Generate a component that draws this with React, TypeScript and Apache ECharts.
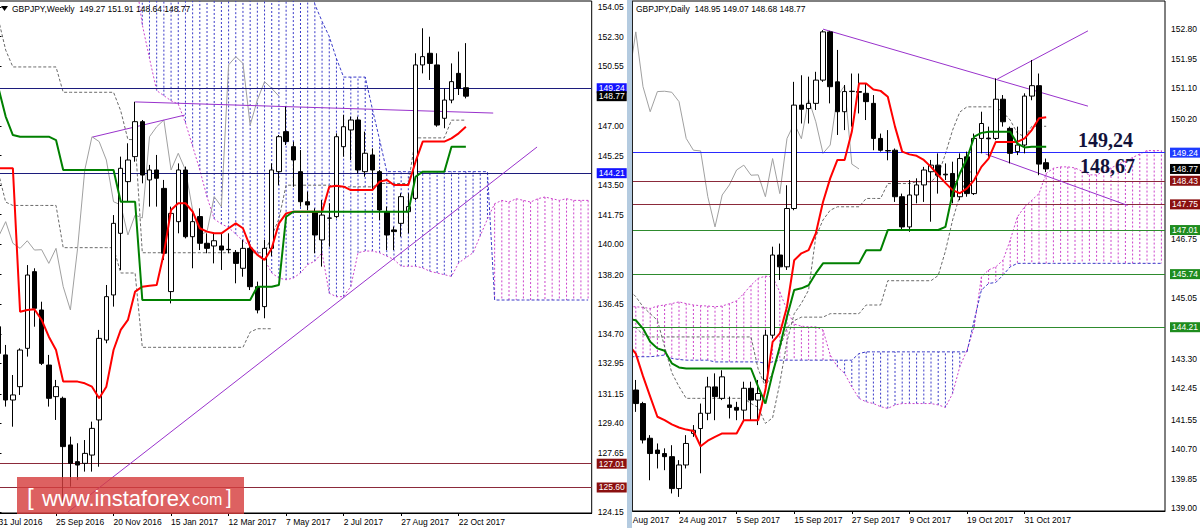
import React, { useEffect, useRef } from "react";
import * as echarts from "echarts";

const FONT = '"Liberation Sans", Arial, sans-serif';
const MONTHS = ["Jan", "Feb", "Mar", "Apr", "May", "Jun", "Jul", "Aug", "Sep", "Oct", "Nov", "Dec"];
const fmtDate = (d: Date) => `${d.getUTCDate()} ${MONTHS[d.getUTCMonth()]} ${d.getUTCFullYear()}`;

// ================= WEEKLY (left panel) =================
const W_SYMBOL = "GBPJPY,Weekly";
const W_FIRST = [2016, 6, 31]; // 31 Jul 2016
const W_SLOTS = 83; // bars + future cloud slots
const W_LABEL_STEP = 8;
const CHIKOU_SHIFT = 26;
// [open, close, low, high]
const W_OHLC: number[][] = [
  [135.12, 133.54, 133.35, 135.52], [133.45, 130.78, 130.39, 134.04], [130.78, 131.08, 129.2, 132.26],
  [131.57, 133.74, 131.08, 133.84], [133.84, 138.18, 133.35, 138.77], [138.38, 136.21, 135.12, 138.58],
  [136.11, 132.95, 132.85, 136.6], [132.85, 130.88, 130.39, 133.45], [130.98, 131.57, 129.6, 131.97],
  [130.88, 128.02, 124.66, 130.98], [128.12, 127.03, 125.65, 128.61], [127.13, 126.93, 126.04, 128.22],
  [127.03, 127.62, 126.54, 128.41], [127.52, 129.1, 126.54, 129.5], [129.6, 134.43, 126.83, 134.93],
  [134.33, 136.9, 134.14, 137.59], [137.0, 141.24, 136.31, 141.73], [140.65, 144.5, 138.48, 145.19],
  [143.71, 144.99, 142.52, 145.98], [145.19, 147.26, 144.89, 148.44], [147.26, 144.1, 143.61, 147.36],
  [143.81, 144.4, 142.23, 144.7], [144.4, 143.91, 142.23, 145.29], [143.31, 139.47, 139.07, 143.81],
  [137.2, 141.83, 136.5, 142.23], [141.34, 144.4, 140.65, 144.79], [144.4, 140.45, 140.35, 144.6],
  [140.45, 141.34, 138.58, 141.93], [141.64, 140.06, 139.66, 142.13], [140.06, 139.76, 139.47, 140.65],
  [139.9, 140.21, 138.87, 140.65], [139.9, 139.66, 138.48, 140.65], [139.7, 139.68, 139.47, 140.65],
  [139.52, 138.87, 137.69, 139.66], [138.58, 139.76, 138.08, 140.26], [139.76, 137.49, 137.29, 140.16],
  [137.49, 136.11, 135.91, 137.79], [136.31, 139.76, 135.62, 140.26], [139.76, 144.4, 139.3, 144.79],
  [144.3, 146.37, 143.5, 146.47], [146.67, 146.08, 145.88, 148.15], [145.78, 144.99, 143.41, 146.08],
  [144.3, 142.52, 142.23, 145.58], [142.52, 142.33, 142.03, 143.12], [141.93, 140.55, 139.47, 142.13],
  [140.26, 141.73, 138.68, 142.62], [141.54, 141.56, 139.86, 142.43], [141.64, 146.37, 141.54, 146.57],
  [145.78, 146.96, 145.19, 147.66], [146.77, 147.36, 144.99, 147.56], [147.36, 144.4, 144.2, 147.56],
  [144.3, 145.39, 144.0, 146.67], [145.29, 144.4, 143.22, 145.68], [144.3, 142.03, 141.44, 144.4],
  [141.93, 140.55, 139.66, 142.23], [140.85, 140.75, 139.66, 141.05], [141.24, 142.82, 140.45, 143.02],
  [141.93, 142.23, 140.65, 143.02], [142.72, 150.62, 142.62, 151.31], [150.62, 151.11, 150.12, 152.79],
  [151.31, 150.71, 149.73, 152.29], [150.62, 147.06, 146.96, 151.31], [147.46, 148.54, 146.87, 149.23],
  [148.54, 149.63, 148.35, 150.71], [150.12, 149.23, 148.84, 151.41], [149.27, 148.77, 148.64, 151.91],
];
const W_TENKAN = [
  144.5, 144.5, 144.5, 136.01, 136.11, 136.15, 135.52, 134.53, 133.74, 131.87,
  131.87, 131.87, 131.77, 131.57, 130.88, 131.57, 133.74, 134.93, 135.52, 137.2,
  137.49, 137.54, 137.59, 139.47, 142.03, 142.43, 142.43, 141.93, 140.95, 140.75,
  140.65, 140.65, 140.95, 141.24, 140.95, 139.86, 139.37, 139.07, 139.76, 141.24,
  141.83, 141.93, 141.93, 141.93, 141.93, 141.93, 143.41, 143.47, 143.41, 143.21,
  143.21, 143.21, 143.21, 143.71, 143.81, 143.51, 143.51, 143.51, 144.89, 146.08,
  146.08, 146.08, 146.08, 146.27, 146.57, 146.96,
];
const W_KIJUN = [
  149.25, 147.56, 146.47, 146.37, 146.37, 146.37, 146.37, 146.37, 146.17, 144.4,
  144.4, 144.4, 144.4, 144.4, 144.4, 144.4, 144.4, 142.52, 142.52, 142.52,
  136.7, 136.7, 136.7, 136.7, 136.7, 136.7, 136.7, 136.7, 136.7, 136.7,
  136.7, 136.7, 136.7, 136.7, 136.7, 136.7, 137.49, 137.49, 137.49, 137.59,
  141.63, 141.93, 141.93, 141.93, 141.93, 141.93, 141.93, 141.93, 141.93, 141.93,
  141.93, 141.93, 141.93, 141.93, 141.93, 141.93, 141.93, 141.93, 144.0, 144.3,
  144.3, 144.3, 144.3, 145.78, 145.78, 145.78,
];
const W_SPAN_A: (number | null)[] = [
  null, null, null, null, null, null, null, null, null, null,
  null, null, null, null, null, null, null, null, null,
  156.0, 153.0, 151.0, 149.1, 148.8, 148.5, 148.3, 147.2, 145.8, 144.4,
  142.8, 141.5, 141.2, 141.0, 140.6, 140.2, 139.9, 139.5, 139.1, 138.3,
  138.0, 137.9, 138.0, 138.3, 138.8, 139.0, 139.5, 137.1, 136.9, 136.9,
  137.5, 139.5, 139.6, 139.6, 139.5, 139.3, 139.1, 138.7, 138.7, 138.7,
  138.6, 138.4, 138.3, 138.2, 138.1, 138.9, 139.2, 139.5, 140.5, 141.5,
  142.4, 142.6, 142.5, 142.7, 142.6, 142.5, 142.7, 142.8, 142.7, 142.6,
  142.7, 142.6, 142.6, 142.6,
];
const W_SPAN_B: (number | null)[] = [
  null, null, null, null, null, null, null, null, null, null,
  null, null, null, null, null, null, null, null, null,
  156.5, 156.5, 156.5, 156.5, 156.5, 156.5, 156.5, 156.5, 156.5, 156.5,
  156.5, 156.5, 156.5, 156.5, 156.5, 156.5, 156.5, 156.5, 156.5, 156.5,
  156.5, 156.5, 156.5, 156.5, 156.5, 154.2, 153.2, 152.3, 151.0, 149.9,
  149.9, 149.9, 149.9, 148.0, 146.2, 144.3, 144.3, 144.3, 144.3, 144.3,
  144.3, 144.3, 144.3, 144.3, 144.3, 144.3, 144.3, 144.3, 144.3, 144.3,
  136.7, 136.7, 136.7, 136.7, 136.7, 136.7, 136.7, 136.7, 136.7, 136.7,
  136.7, 136.7, 136.7, 136.7,
];
// higher-timeframe dashed lines
const W_DASH_1 = [
  153.3, 151.5, 150.5, 150.5, 150.5, 150.5, 150.5, 150.5, 150.5, 149.0,
  149.0, 149.0, 149.0, 149.0, 149.0, 149.0, 149.0, 147.9, 146.2, 146.2,
  139.5, 139.5, 139.5, 139.5, 139.5, 139.5, 139.5, 139.5, 139.5, 139.5,
  139.5, 139.5, 139.5, 139.5, 139.5, 139.5, 139.5, 139.5, 140.5, 141.5,
  143.5, 143.5, 143.5, 143.5, 143.5, 143.5, 143.5, 143.4, 143.4, 143.4,
  143.4, 143.4, 143.4, 143.6, 143.6, 143.6, 143.6, 143.6, 146.3, 146.3,
  146.3, 146.3, 146.3, 147.35, 147.35, 147.35,
];
const W_DASH_2 = [
  144.2, 142.5, 142.3, 142.3, 142.3, 142.3, 142.3, 142.3, 142.3, 139.8,
  139.8, 139.8, 139.8, 139.8, 139.8, 139.8, 139.8, 138.3, 138.3, 138.3,
  133.9, 133.9, 133.9, 133.9, 133.9, 133.9, 133.9, 133.9, 133.9, 133.9,
  133.9, 133.9, 133.9, 133.9, 133.9, 134.8, 135.0, 135.0, 135.0,
];
// trend lines: [barIndex, price] pairs
const W_TRENDS: number[][][] = [
  [[9.67, 124.15], [74.9, 145.76]],
  [[13.1, 146.35], [25.9, 147.65]],
  [[19.0, 148.43], [68.8, 147.77]],
];
const W_LEVELS = [149.24, 148.77, 144.21, 127.01, 125.6];
const W_LEVEL_KIND = ["navy", "bid", "navy", "red", "red"];
const W_TICKS = [154.05, 152.3, 150.55, 147.0, 145.25, 143.5, 141.75, 140.0, 138.2, 136.45, 134.7, 132.95, 131.15, 129.4, 127.65, 124.15];

// ================= DAILY (right panel) =================
const D_SYMBOL = "GBPJPY,Daily";
const D_FIRST = [2017, 7, 14]; // 14 Aug 2017
const D_SLOTS = 76;
const D_LEAD = 2; // 14,15 Aug: slots before the first drawn candle
const D_OHLC: number[][] = [
  [142.4, 142.01, 141.77, 142.69], [142.01, 140.96, 140.86, 142.06], [141.01, 140.57, 139.8, 141.1],
  [140.67, 140.57, 140.14, 140.86], [140.57, 140.48, 140.09, 140.72], [140.48, 139.56, 139.42, 140.81],
  [139.56, 140.24, 139.32, 140.38], [140.24, 140.86, 140.14, 141.1], [141.15, 141.24, 141.05, 141.39],
  [141.29, 141.73, 140.0, 142.01], [141.73, 142.49, 141.53, 142.78], [142.49, 142.21, 141.53, 142.88],
  [142.16, 142.78, 142.11, 142.97], [141.97, 141.9, 141.58, 142.21], [141.9, 141.82, 141.53, 142.06],
  [141.82, 142.45, 141.53, 142.64], [142.45, 142.11, 141.53, 142.64], [142.11, 142.3, 141.39, 142.69],
  [142.69, 143.98, 142.59, 144.13], [143.98, 146.29, 143.89, 146.53], [146.29, 145.95, 145.57, 146.62],
  [145.95, 147.63, 145.86, 148.3], [147.63, 150.61, 147.58, 151.28], [150.61, 150.49, 150.08, 151.47],
  [150.51, 150.66, 150.08, 151.43], [150.66, 151.33, 150.47, 151.57], [151.33, 152.72, 151.28, 152.77],
  [152.72, 151.14, 150.66, 152.75], [151.28, 150.42, 149.75, 152.2], [150.42, 151.0, 149.89, 151.19],
  [151.0, 151.01, 149.99, 151.52], [151.0, 150.98, 150.37, 151.52], [150.95, 150.71, 150.18, 151.23],
  [150.66, 149.65, 149.31, 150.9], [149.65, 149.31, 149.27, 149.79], [149.3, 149.29, 149.02, 149.89],
  [149.31, 147.97, 147.82, 149.36], [147.97, 147.1, 147.01, 148.06], [147.1, 148.02, 146.96, 148.45],
  [148.02, 148.31, 147.78, 148.5], [148.31, 148.74, 147.82, 148.83], [148.69, 148.88, 147.25, 149.03],
  [148.88, 148.59, 148.06, 149.22], [148.62, 148.6, 148.45, 148.93], [148.64, 147.97, 147.78, 148.98],
  [147.97, 149.07, 147.87, 149.22], [149.12, 148.06, 147.97, 149.27], [148.06, 149.65, 148.02, 149.79],
  [149.65, 150.08, 149.22, 150.42], [149.66, 149.64, 149.12, 149.99], [149.65, 150.78, 149.6, 151.38],
  [150.78, 150.13, 149.99, 150.9], [149.94, 149.22, 148.93, 149.99], [149.27, 149.46, 149.17, 149.99],
  [149.46, 150.87, 149.22, 150.95], [150.87, 151.17, 150.75, 151.91], [151.17, 148.91, 148.59, 151.52],
  [148.95, 148.77, 148.68, 149.07],
];
const D_TENKAN = [
  143.9, 143.7,
  143.45, 142.8, 142.21, 141.63, 141.53, 141.41, 141.32, 141.26, 141.22, 140.78,
  140.94, 141.05, 141.15, 141.15, 141.15, 141.53, 141.53, 141.53, 142.4, 143.79,
  144.03, 144.8, 146.14, 146.34, 146.43, 146.91, 147.82, 148.5, 149.03, 149.03,
  149.84, 151.23, 151.23, 151.06, 151.02, 150.85, 149.99, 149.27, 149.19, 149.15,
  149.03, 148.83, 148.59, 148.37, 148.16, 148.07, 148.21, 148.45, 148.83, 149.07,
  149.55, 149.55, 149.55, 149.55, 149.65, 149.89, 150.23, 150.26,
];
const D_KIJUN = [
  144.5, 144.45,
  144.41, 144.17, 143.79, 143.6, 143.53, 143.17, 143.05, 143.02, 143.02, 143.02,
  143.02, 143.02, 143.02, 143.02, 143.02, 143.02, 143.02, 142.49, 142.01, 142.88,
  143.65, 144.51, 145.28, 145.33, 145.42, 145.76, 146.05, 146.05, 146.05, 146.05,
  146.05, 146.05, 146.43, 146.43, 146.43, 147.01, 147.01, 147.01, 147.01, 147.01,
  147.01, 147.01, 147.01, 147.1, 148.07, 148.64, 149.07, 149.7, 149.81, 149.84,
  149.84, 149.84, 149.84, 149.5, 149.39, 149.41, 149.41, 149.41,
];
const D_SPAN_A = [
  144.8, 144.8, 144.8, 144.78, 144.75, 144.82, 144.85, 144.89, 144.94, 144.89, 144.85, 144.83,
  144.82, 144.8, 144.82, 144.89, 144.97, 145.18, 145.42, 145.62, 145.68, 145.66,
  145.23, 144.7, 144.3, 144.24, 144.22, 144.22, 144.13, 143.41, 143.07, 142.88,
  142.49, 142.16, 142.06, 142.01, 141.92, 141.87, 141.97, 142.01, 142.01, 142.01,
  142.01, 142.01, 141.97, 141.9, 142.3, 143.07, 143.55, 144.22, 145.66, 145.86,
  145.95, 146.14, 146.72, 147.39, 147.68, 147.87, 148.06, 148.64, 148.79, 148.83,
  148.83, 148.8, 148.7, 148.6, 148.6, 148.7, 148.8, 148.9, 149.0, 149.1,
  149.2, 149.3, 149.3, 149.3,
];
const D_SPAN_B = [
  143.36, 143.36, 143.36, 143.36, 143.36, 143.38, 143.41, 143.31, 143.28, 143.26,
  143.26, 143.26, 143.26, 143.21, 143.21, 143.21, 143.21, 143.21, 143.21, 143.21,
  143.17, 143.21, 143.26, 143.26, 143.26, 143.26, 143.26, 143.26, 143.26, 143.26,
  143.26, 143.26, 143.26, 143.45, 143.5, 143.5, 143.5, 143.5, 143.5, 143.5,
  143.5, 143.5, 143.5, 143.5, 143.5, 143.5, 143.5, 143.5, 143.5, 144.41,
  145.28, 145.47, 145.5, 145.71, 145.95, 146.05, 146.05, 146.05, 146.05, 146.05,
  146.05, 146.05, 146.05, 146.05, 146.05, 146.05, 146.05, 146.05, 146.05, 146.05,
  146.05, 146.05, 146.05, 146.05, 146.05, 146.05,
];
const D_DASH_1 = [
  145.6, 145.3,
  145.09, 144.8, 144.6, 144.41, 143.65, 142.9, 142.5, 142.16, 142.16, 142.16,
  142.16, 142.16, 142.16, 142.16, 142.16, 142.16, 142.01, 141.9, 141.44, 141.6,
  142.6, 143.8, 144.6, 144.9, 145.28, 146.82, 147.3, 147.58, 147.68, 147.68,
  147.68, 147.68, 147.92, 147.92, 147.92, 148.35, 148.35, 148.35, 148.35, 148.4,
  148.4, 148.4, 148.6, 149.2, 149.89, 150.41, 150.56, 150.56, 150.56, 150.56,
  150.56, 150.4, 150.18, 149.8, 149.7, 150.0, 150.0, 150.0,
];
const D_DASH_2 = [
  144.4, 144.3,
  144.2, 144.0, 143.93, 143.93, 143.93, 143.93, 143.93, 143.93, 143.93, 143.93,
  143.93, 143.93, 143.93, 143.93, 143.93, 143.93, 143.93, 143.0, 142.5, 142.9,
  143.6, 144.2, 144.4, 144.5, 144.5, 144.5, 144.5, 144.6, 144.6, 144.6,
  144.6, 144.6, 144.85, 144.85, 144.85, 145.55, 145.55, 145.55, 145.55, 145.55,
  145.55, 145.55, 145.7, 146.4, 147.3, 148.0, 148.5, 148.9,
];
const D_TRENDS: number[][][] = [
  [[28.0, 152.8], [64.8, 150.58]],
  [[52.2, 151.36], [64.8, 152.75]],
  [[50.6, 149.2], [70.3, 147.72]],
];
const D_LEVELS = [149.24, 148.77, 148.43, 147.75, 147.01, 145.74, 144.21];
const D_LEVEL_KIND = ["blue", "bid", "red", "red", "green", "green", "green"];
const D_TICKS = [152.8, 151.95, 151.1, 150.2, 146.75, 145.05, 143.3, 142.45, 141.55, 140.7, 139.85, 139.0];
const D_NOTES = ["149,24", "148,67"];

// ================= styles =================
const LINE_COLOR: Record<string, string> = { navy: "#1c1c7c", blue: "#2a2aff", bid: "rgba(0,0,0,0)", red: "#8b2a3a", green: "#2e8b2e" };
const BOX_COLOR: Record<string, string> = { navy: "#1414ff", blue: "#1e3cff", bid: "#000000", red: "#8b1010", green: "#1e8c1e" };
const PINK = "#cc44cc";
const BLUE = "#3a3ac8";

function weeklyCategories(): string[] {
  const out: string[] = [];
  const d = new Date(Date.UTC(W_FIRST[0], W_FIRST[1], W_FIRST[2]));
  for (let i = 0; i < W_SLOTS; i++) {
    out.push(fmtDate(d));
    d.setUTCDate(d.getUTCDate() + 7);
  }
  return out;
}
function dailyCategories(): string[] {
  const out: string[] = [];
  const d = new Date(Date.UTC(D_FIRST[0], D_FIRST[1], D_FIRST[2]));
  while (out.length < D_SLOTS) {
    const wd = d.getUTCDay();
    if (wd !== 0 && wd !== 6) out.push(fmtDate(d));
    d.setUTCDate(d.getUTCDate() + 1);
  }
  return out;
}

const lineSeries = (data: any[], color: string, width: number, type: any, z: number, extra: any = {}) => ({
  type: "line", data, symbol: "none", showSymbol: false, silent: true, z,
  lineStyle: { color, width, type }, connectNulls: false, ...extra,
});

function hatchSeries(a: (number | null)[], b: (number | null)[]) {
  const rows: number[][] = [];
  for (let i = 0; i < a.length; i++) if (a[i] != null && b[i] != null) rows.push([i, a[i] as number, b[i] as number]);
  return {
    type: "custom", data: rows, encode: { x: 0, y: [1, 2] }, clip: true, silent: true, z: 1,
    renderItem: (params: any, api: any) => {
      const i = api.value(0), va = api.value(1), vb = api.value(2);
      const p1 = api.coord([i, va]);
      const p2 = api.coord([i, vb]);
      return {
        type: "line",
        shape: { x1: p1[0], y1: p1[1], x2: p2[0], y2: p2[1] },
        style: { stroke: va >= vb ? PINK : BLUE, lineWidth: 1, lineDash: [2, 2] },
        silent: true,
      };
    },
  };
}

function levelSeries(levels: number[], kinds: string[]) {
  return {
    type: "line", data: [], silent: true, z: 6, clip: false,
    markLine: {
      silent: true, symbol: ["none", "none"], animation: false,
      data: levels.map((v, n) => ({
        yAxis: v,
        lineStyle: { color: LINE_COLOR[kinds[n]], width: 1, type: "solid" },
        label: {
          show: true, position: "end", distance: 5, formatter: v.toFixed(2),
          color: "#fff", backgroundColor: BOX_COLOR[kinds[n]], padding: [1, 2, 0, 2],
          fontSize: 8.5, fontFamily: FONT,
        },
      })),
    },
  };
}

function baseAxes(cats: string[], lastBar: number, ticks: number[], yMin: number, yMax: number) {
  const iv = (idx: number) => idx % W_LABEL_STEP === 0 && idx <= lastBar;
  return {
    xAxis: [
      {
        type: "category", data: cats, boundaryGap: true,
        axisLine: { show: true, lineStyle: { color: "#000", width: 1 } },
        axisTick: { show: true, interval: iv, alignWithLabel: true, length: 3, lineStyle: { color: "#000" } },
        axisLabel: { interval: iv, align: "left", margin: 4, fontSize: 8.5, color: "#000", fontFamily: FONT, hideOverlap: false },
        splitLine: { show: false },
      },
      { type: "value", min: -0.5, max: cats.length - 0.5, show: false },
    ],
    yAxis: {
      type: "value", position: "right", min: yMin, max: yMax, scale: true,
      axisLine: { show: true, lineStyle: { color: "#000", width: 1 } },
      axisTick: { show: true, length: 3, customValues: ticks, lineStyle: { color: "#000" } },
      axisLabel: { customValues: ticks, formatter: (v: number) => v.toFixed(2), margin: 6, fontSize: 8.5, color: "#000", fontFamily: FONT },
      splitLine: { show: false },
    },
  };
}

const candleSeries = (rows: number[][], z: number) => ({
  type: "candlestick", data: rows, encode: { x: 0, y: [1, 2, 3, 4] }, barWidth: 5, z, silent: true,
  itemStyle: { color: "#ffffff", color0: "#000000", borderColor: "#000000", borderColor0: "#000000", borderWidth: 1 },
});

const trendSeries = (trends: number[][][]) =>
  trends.map((t) => lineSeries(t, "#9932cc", 1, "solid", 5, { xAxisIndex: 1 }));

const gridOf = (left: number, width: number, height: number) => ({
  left, top: 1, width, height, show: true, borderColor: "#000", borderWidth: 1,
  containLabel: false, outerBoundsMode: "none",
});

function buildWeekly(): any {
  const cats = weeklyCategories();
  const lastBar = W_OHLC.length - 1;
  const rows = W_OHLC.map((r, i) => [i, ...r]);
  const chikou = cats.map((_, i) => (i + CHIKOU_SHIFT <= lastBar ? W_OHLC[i + CHIKOU_SHIFT][1] : null));
  const last = W_OHLC[lastBar];
  const title = `${W_SYMBOL}  ${last[0].toFixed(2)} ${last[3].toFixed(2)} ${last[2].toFixed(2)} ${last[1].toFixed(2)}`;
  return {
    animation: false,
    textStyle: { fontFamily: FONT },
    grid: gridOf(-5.1, 596.8, 512),
    ...baseAxes(cats, lastBar, W_TICKS, 124.09, 154.405),
    series: [
      hatchSeries(W_SPAN_A, W_SPAN_B),
      lineSeries(W_SPAN_A, PINK, 1, [2, 2], 2),
      lineSeries(W_SPAN_B, BLUE, 1, [3, 2], 2),
      lineSeries(W_DASH_1, "#6a6a6a", 1, [3, 2], 2),
      lineSeries(W_DASH_2, "#6a6a6a", 1, [3, 2], 2),
      lineSeries(chikou, "#a0a0a0", 1, "solid", 3),
      ...trendSeries(W_TRENDS),
      levelSeries(W_LEVELS, W_LEVEL_KIND),
      candleSeries(rows, 7),
      lineSeries(W_TENKAN, "#ff0000", 2, "solid", 8),
      lineSeries(W_KIJUN, "#008000", 2, "solid", 8),
    ],
    graphic: [
      { type: "polygon", shape: { points: [[1, 6], [8, 6], [4.5, 11]] }, style: { fill: "#000" }, z: 100 },
      { type: "text", x: 12, y: 9, z: 100, style: { text: title, font: `8.5px ${FONT}`, fill: "#000", verticalAlign: "middle" } },
      { type: "rect", shape: { x: 17, y: 477, width: 227, height: 37 }, style: { fill: "rgba(214,62,62,0.82)" }, z: 100 },
      { type: "text", x: 27, y: 508, z: 101, style: { text: "[", font: `24px ${FONT}`, fill: "#fff", verticalAlign: "bottom" } },
      { type: "text", x: 42, y: 509, z: 101, style: { text: "www.instaforex", font: `22px ${FONT}`, fill: "#fff", verticalAlign: "bottom" } },
      { type: "text", x: 192, y: 507.5, z: 101, style: { text: "com", font: `16px ${FONT}`, fill: "#fff", verticalAlign: "bottom" } },
      { type: "text", x: 226, y: 507, z: 101, style: { text: "]", font: `20px ${FONT}`, fill: "#fff", verticalAlign: "bottom" } },
    ],
  };
}

function buildDaily(): any {
  const cats = dailyCategories();
  const lastBar = D_LEAD + D_OHLC.length - 1;
  const rows = D_OHLC.map((r, j) => [j + D_LEAD, ...r]);
  const closeAt = (k: number) => (k >= D_LEAD && k <= lastBar ? D_OHLC[k - D_LEAD][1] : null);
  const chikou = cats.map((_, k) => closeAt(k + CHIKOU_SHIFT));
  const last = D_OHLC[D_OHLC.length - 1];
  const title = `${D_SYMBOL}  ${last[0].toFixed(2)} ${last[3].toFixed(2)} ${last[2].toFixed(2)} ${last[1].toFixed(2)}`;
  return {
    animation: false,
    textStyle: { fontFamily: FONT },
    grid: gridOf(-12.2, 547.2, 510),
    ...baseAxes(cats, lastBar, D_TICKS, 138.914, 153.61),
    series: [
      hatchSeries(D_SPAN_A, D_SPAN_B),
      lineSeries(D_SPAN_A, PINK, 1, [2, 2], 2),
      lineSeries(D_SPAN_B, BLUE, 1, [3, 2], 2),
      lineSeries(D_DASH_1, "#6a6a6a", 1, [3, 2], 2),
      lineSeries(D_DASH_2, "#6a6a6a", 1, [3, 2], 2),
      lineSeries(chikou, "#a0a0a0", 1, "solid", 3),
      ...trendSeries(D_TRENDS),
      levelSeries(D_LEVELS, D_LEVEL_KIND),
      candleSeries(rows, 7),
      lineSeries(D_TENKAN, "#ff0000", 2, "solid", 8),
      lineSeries(D_KIJUN, "#008000", 2, "solid", 8),
    ],
    graphic: [
      { type: "text", x: 6, y: 9, z: 100, style: { text: title, font: `8.5px ${FONT}`, fill: "#000", verticalAlign: "middle" } },
      { type: "text", x: 448, y: 140, z: 100, style: { text: D_NOTES[0], font: 'bold 20px "Liberation Serif", "Times New Roman", serif', fill: "#12123a", verticalAlign: "middle" } },
      { type: "text", x: 450, y: 166, z: 100, style: { text: D_NOTES[1], font: 'bold 20px "Liberation Serif", "Times New Roman", serif', fill: "#12123a", verticalAlign: "middle" } },
    ],
  };
}

export default function App() {
  const leftRef = useRef<HTMLDivElement>(null);
  const rightRef = useRef<HTMLDivElement>(null);
  useEffect(() => {
    const c1 = echarts.init(leftRef.current as HTMLDivElement, null, { renderer: "svg" });
    c1.setOption(buildWeekly());
    const c2 = echarts.init(rightRef.current as HTMLDivElement, null, { renderer: "svg" });
    c2.setOption(buildDaily());
    return () => {
      c1.dispose();
      c2.dispose();
    };
  }, []);
  return (
    <div style={{ position: "fixed", left: 0, top: 0, width: 1200, height: 528, background: "#fff", overflow: "hidden" }}>
      <div ref={leftRef} style={{ position: "absolute", left: 0, top: 0, width: 627, height: 528, overflow: "hidden" }} />
      <div ref={rightRef} style={{ position: "absolute", left: 630, top: 0, width: 570, height: 528, overflow: "hidden" }} />
      <div style={{ position: "absolute", left: 627, top: 0, width: 5, height: 528, background: "#b4cbe0" }} />
      <div style={{ position: "absolute", left: 632, top: 1, width: 1, height: 511, background: "#222" }} />
    </div>
  );
}
